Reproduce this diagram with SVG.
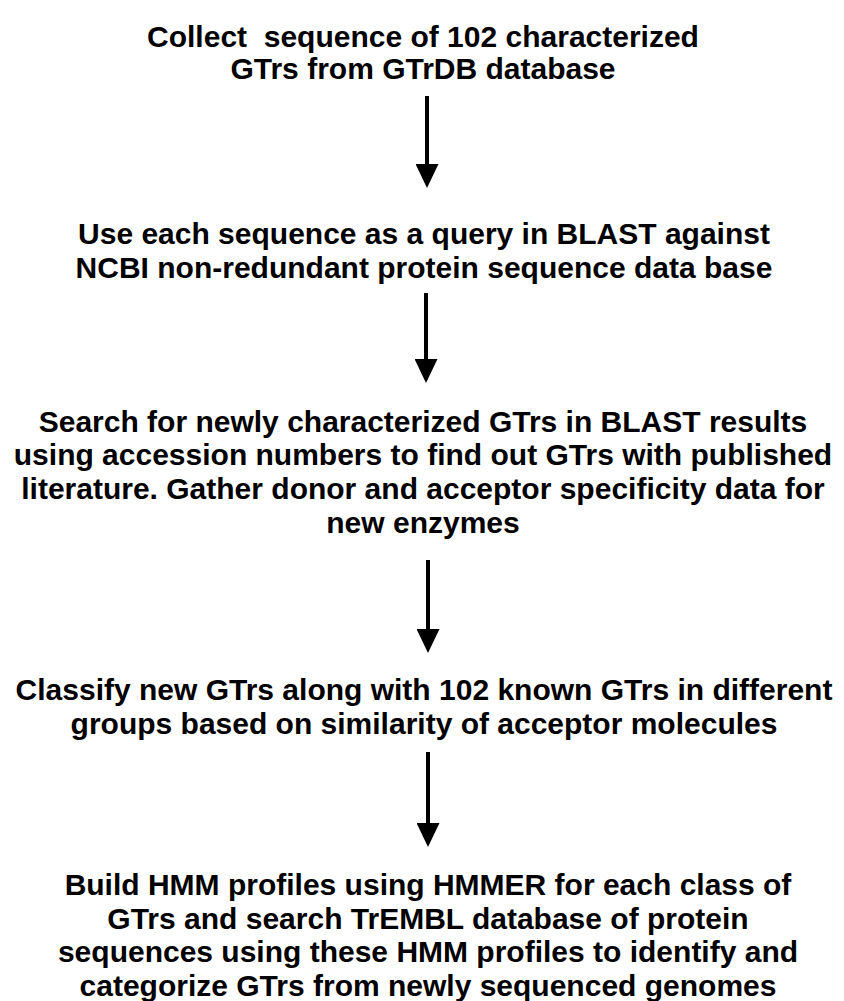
<svg xmlns="http://www.w3.org/2000/svg" width="844" height="1001" viewBox="0 0 844 1001">
<style>
.t{font-family:"Liberation Sans",Arial,sans-serif;font-weight:bold;font-size:30px;fill:#000;text-anchor:middle}
.c{stroke:#000;stroke-width:4;fill:none}
</style>
<defs>
<marker id="ah" markerUnits="userSpaceOnUse" markerWidth="24" markerHeight="23" viewBox="0 0 24 23" refX="0" refY="11.5" orient="auto">
<path d="M0,0 L24,11.5 L0,23 Z" fill="#000"/>
</marker>
</defs>
<rect width="844" height="1001" fill="#fff"/>
<g id="n1">
<text class="t" x="423" y="47" xml:space="preserve">Collect  sequence of 102 characterized</text>
<text class="t" x="423" y="79">GTrs from GTrDB database</text>
</g>
<g id="n2">
<text class="t" x="424" y="244">Use each sequence as a query in BLAST against</text>
<text class="t" x="424" y="278">NCBI non-redundant protein sequence data base</text>
</g>
<g id="n3">
<text class="t" x="423" y="432">Search for newly characterized GTrs in BLAST results</text>
<text class="t" x="423" y="465">using accession numbers to find out GTrs with published</text>
<text class="t" x="423" y="499">literature. Gather donor and acceptor specificity data for</text>
<text class="t" x="423" y="533">new enzymes</text>
</g>
<g id="n4">
<text class="t" x="424" y="700">Classify new GTrs along with 102 known GTrs in different</text>
<text class="t" x="424" y="734">groups based on similarity of acceptor molecules</text>
</g>
<g id="n5">
<text class="t" x="428" y="895">Build HMM profiles using HMMER for each class of</text>
<text class="t" x="428" y="929">GTrs and search TrEMBL database of protein</text>
<text class="t" x="428" y="962">sequences using these HMM profiles to identify and</text>
<text class="t" x="428" y="996">categorize GTrs from newly sequenced genomes</text>
</g>
<g id="connectors">
<line class="c" x1="427" y1="96" x2="427" y2="164" marker-end="url(#ah)"/>
<line class="c" x1="426" y1="293" x2="426" y2="359" marker-end="url(#ah)"/>
<line class="c" x1="428" y1="560" x2="428" y2="629" marker-end="url(#ah)"/>
<line class="c" x1="428" y1="752" x2="428" y2="823" marker-end="url(#ah)"/>
</g>
</svg>
